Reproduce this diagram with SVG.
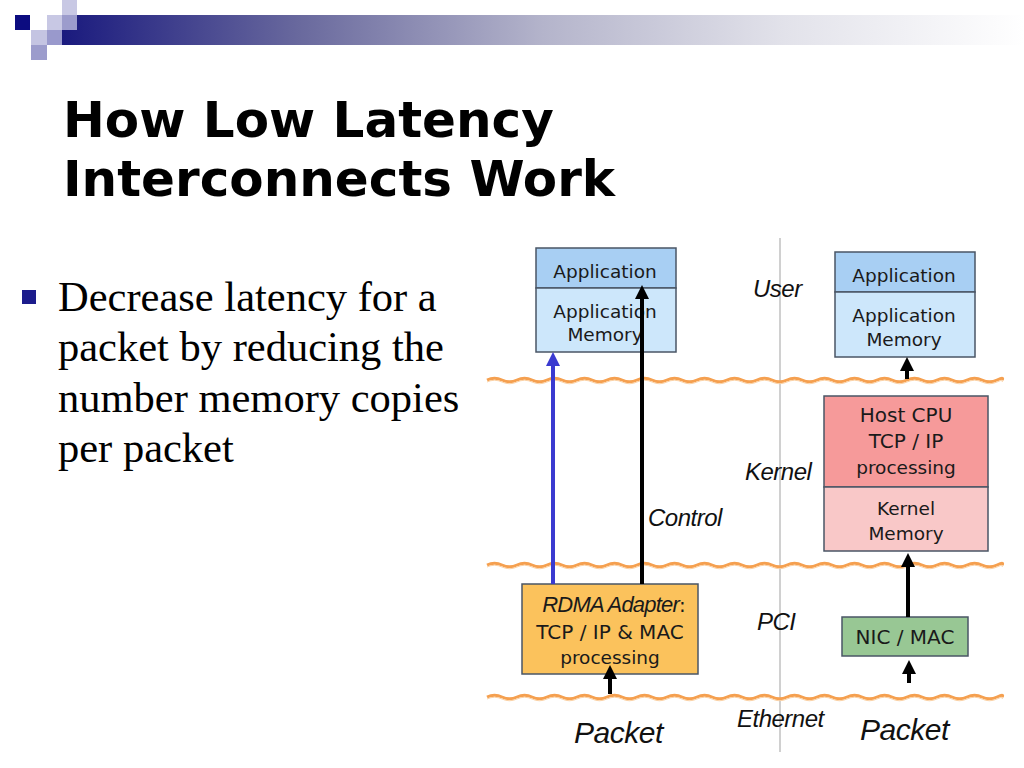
<svg xmlns="http://www.w3.org/2000/svg" xmlns:xlink="http://www.w3.org/1999/xlink" width="1024" height="768" viewBox="0 0 1024 768">
<defs>
<linearGradient id="bar" x1="0" y1="0" x2="1" y2="0">
<stop offset="0" stop-color="#1a1a7e"/>
<stop offset="0.25" stop-color="#6a6a9e"/>
<stop offset="0.5" stop-color="#b4b4cb"/>
<stop offset="0.75" stop-color="#e2e2ea"/>
<stop offset="1" stop-color="#ffffff"/>
</linearGradient>
<path id="wave" d="M487 0 q7.5 -3.5 15 0 t15 0 t15 0 t15 0 t15 0 t15 0 t15 0 t15 0 t15 0 t15 0 t15 0 t15 0 t15 0 t15 0 t15 0 t15 0 t15 0 t15 0 t15 0 t15 0 t15 0 t15 0 t15 0 t15 0 t15 0 t15 0 t15 0 t15 0 t15 0 t15 0 t15 0 t15 0 t15 0 t15 0 t5 0"/>
<marker id="ahk" viewBox="0 0 14 14" refX="4" refY="7" markerWidth="14" markerHeight="14" markerUnits="userSpaceOnUse" orient="auto">
<path d="M0,0 L14,7 L0,14 z" fill="#000"/>
</marker>
<marker id="ahb" viewBox="0 0 14 14" refX="4" refY="7" markerWidth="14" markerHeight="14" markerUnits="userSpaceOnUse" orient="auto">
<path d="M0,0 L14,7 L0,14 z" fill="#3a3ad0"/>
</marker>
<style>
.title{font-family:"DejaVu Sans",sans-serif;font-weight:bold;font-size:50px;fill:#000}
.body{font-family:"Liberation Serif",serif;font-size:42.5px;fill:#000}
.lbl{font-family:"DejaVu Sans",sans-serif;font-size:18.5px;fill:#1a1a1a;text-anchor:middle}
.cap{font-size:20px}
.it{font-family:"Liberation Sans",sans-serif;font-style:italic;font-size:24px;fill:#111;letter-spacing:-0.5px}
.pk{font-family:"Liberation Sans",sans-serif;font-style:italic;font-size:30px;fill:#111;letter-spacing:-0.5px}
.box{stroke:#4a5666;stroke-width:1.5}
.wv{fill:none;stroke:#f5a050;stroke-width:3}
.wv2{fill:none;stroke:#fbd2a6;stroke-width:1}
.ar{stroke:#000;stroke-width:4;fill:none}
</style>
</defs>
<rect width="1024" height="768" fill="#fff"/>
<g id="header">
<rect x="62" y="15" width="962" height="30" fill="url(#bar)"/>
<rect x="62" y="0" width="15" height="15" fill="#c8c8e4"/>
<rect x="15" y="15" width="15" height="15" fill="#0c0c80"/>
<rect x="47" y="15" width="15" height="15" fill="#c8c8e4"/>
<rect x="62" y="15" width="15" height="15" fill="#9c9ccc"/>
<rect x="31" y="30" width="16" height="15" fill="#c4c4e2"/>
<rect x="47" y="30" width="15" height="15" fill="#9999cc"/>
<rect x="31" y="45" width="16" height="15" fill="#9c9ccc"/>
</g>
<g id="title">
<text class="title" x="63" y="137">How Low Latency</text>
<text class="title" x="63" y="196">Interconnects Work</text>
</g>
<g id="bullets">
<rect x="22" y="290" width="14" height="14" fill="#1c1c8c"/>
<text class="body" x="58" y="311">Decrease latency for a</text>
<text class="body" x="58" y="361">packet by reducing the</text>
<text class="body" x="58" y="412">number memory copies</text>
<text class="body" x="58" y="462">per packet</text>
</g>
<g id="layers">
<line x1="780" y1="238" x2="780" y2="752" stroke="#d0d0d0" stroke-width="2"/>
<use xlink:href="#wave" y="380" class="wv"/>
<use xlink:href="#wave" y="565" class="wv"/>
<use xlink:href="#wave" y="697" class="wv"/>
<use xlink:href="#wave" y="382" class="wv2"/>
<use xlink:href="#wave" y="567" class="wv2"/>
<use xlink:href="#wave" y="699" class="wv2"/>
<text class="it" x="753" y="297">User</text>
<text class="it" x="745" y="480">Kernel</text>
<text class="it" x="757" y="630" letter-spacing="-2">PCI</text>
<text class="it" x="737" y="727">Ethernet</text>
</g>
<g id="left-app">
<rect class="box" x="536" y="248" width="140" height="40" fill="#a8cff3"/>
<rect class="box" x="536" y="288" width="140" height="64" fill="#cde7fb"/>
<text class="lbl" x="605" y="278">Application</text>
<text class="lbl" x="605" y="318">Application</text>
<text class="lbl" x="605" y="341">Memory</text>
</g>
<g id="right-app">
<rect class="box" x="835" y="252" width="140" height="40" fill="#a8cff3"/>
<rect class="box" x="835" y="292" width="140" height="65" fill="#cde7fb"/>
<text class="lbl" x="904" y="282">Application</text>
<text class="lbl" x="904" y="322">Application</text>
<text class="lbl" x="904" y="346">Memory</text>
</g>
<g id="host-cpu">
<rect class="box" x="824" y="396" width="164" height="91" fill="#f69a9a"/>
<rect class="box" x="824" y="487" width="164" height="64" fill="#f9c8c8"/>
<text class="lbl cap" x="906" y="422">Host CPU</text>
<text class="lbl cap" x="906" y="448">TCP / IP</text>
<text class="lbl" x="906" y="474">processing</text>
<text class="lbl" x="906" y="515">Kernel</text>
<text class="lbl" x="906" y="540">Memory</text>
</g>
<g id="nic-mac">
<rect class="box" x="842" y="617" width="126" height="39" fill="#98c794"/>
<text class="lbl cap" x="905" y="644">NIC / MAC</text>
</g>
<g id="rdma">
<rect class="box" x="522" y="584" width="176" height="90" fill="#fbc25c"/>
<text class="lbl" x="614" y="612"><tspan font-family="Liberation Sans, sans-serif" font-style="italic" font-size="22" letter-spacing="-0.8">RDMA Adapter</tspan><tspan font-size="20">:</tspan></text>
<text class="lbl cap" x="610" y="639">TCP / IP &amp; MAC</text>
<text class="lbl" x="610" y="664">processing</text>
</g>
<g id="packets">
<text class="pk" x="574" y="743">Packet</text>
<text class="pk" x="860" y="740">Packet</text>
</g>
<g id="connectors">
<line x1="553" y1="584" x2="553" y2="362" stroke="#3a3ad0" stroke-width="4" marker-end="url(#ahb)"/>
<line class="ar" x1="642" y1="584" x2="642" y2="295" marker-end="url(#ahk)"/>
<line class="ar" x1="907" y1="379" x2="907" y2="367" marker-end="url(#ahk)"/>
<line class="ar" x1="908" y1="617" x2="908" y2="563" marker-end="url(#ahk)"/>
<line class="ar" x1="909" y1="683" x2="909" y2="670" marker-end="url(#ahk)"/>
<line class="ar" x1="610" y1="694" x2="610" y2="675" marker-end="url(#ahk)"/>
</g>
<text class="it" x="648" y="526">Control</text>
</svg>
